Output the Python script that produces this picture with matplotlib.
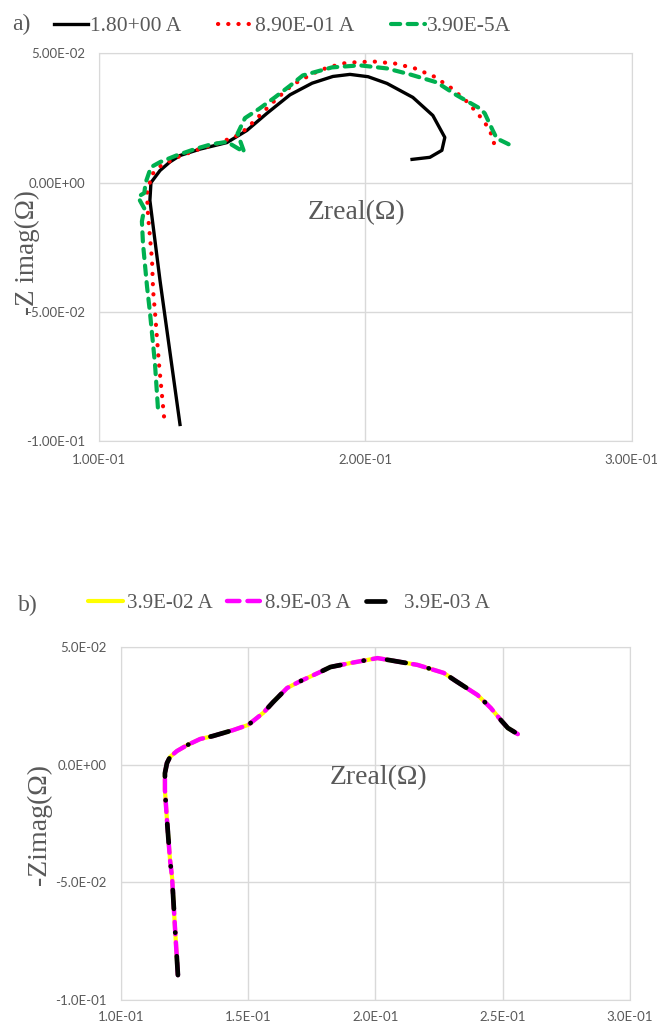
import matplotlib
matplotlib.use("Agg")
import matplotlib.pyplot as plt
from matplotlib.ticker import FuncFormatter, MultipleLocator

# panel a data
a_labels = ["1.80+00 A", "8.90E-01 A", "3.90E-5A"]
a1_re = [0.1304, 0.1229, 0.1191, 0.1195, 0.1229, 0.1266, 0.1304, 0.1380, 0.1480, 0.1555,
         0.1630, 0.1717, 0.1800, 0.1878, 0.1942, 0.2010, 0.2081, 0.2178, 0.2253, 0.2298,
         0.2287, 0.2242, 0.2175]
a1_im = [-0.0936, -0.0379, -0.0069, 0.0000, 0.0047, 0.0080, 0.0105, 0.0130, 0.0155, 0.0202,
         0.0268, 0.0340, 0.0385, 0.0411, 0.0419, 0.0410, 0.0384, 0.0330, 0.0260, 0.0175,
         0.0125, 0.0098, 0.0090]
a2_re = [0.1244, 0.1225, 0.1210, 0.1203, 0.1199, 0.1184, 0.1180, 0.1199, 0.1229, 0.1300,
         0.1371, 0.1446, 0.1521, 0.1555, 0.1611, 0.1668, 0.1728, 0.1799, 0.1837, 0.1912,
         0.1949, 0.2028, 0.2111, 0.2186, 0.2257, 0.2324, 0.2385, 0.2437, 0.2460, 0.2478,
         0.2486]
a2_im = [-0.0905, -0.0700, -0.0500, -0.0417, -0.0301, -0.0127, -0.0042, 0.0032, 0.0063, 0.0101,
         0.0128, 0.0152, 0.0183, 0.0210, 0.0268, 0.0326, 0.0380, 0.0420, 0.0438, 0.0461,
         0.0465, 0.0469, 0.0461, 0.0442, 0.0411, 0.0365, 0.0310, 0.0248, 0.0214, 0.0175,
         0.0136]
a3_re = [0.1221, 0.1210, 0.1191, 0.1180, 0.1165, 0.1161, 0.1170, 0.1146, 0.1170, 0.1175,
         0.1195, 0.1230, 0.1290, 0.1360, 0.1420, 0.1480, 0.1545, 0.1520, 0.1548, 0.1600,
         0.1660, 0.1717, 0.1765, 0.1874, 0.1979, 0.2081, 0.2167, 0.2268, 0.2343, 0.2430,
         0.2448, 0.2478, 0.2493, 0.2531, 0.2561]
a3_im = [-0.0870, -0.0700, -0.0500, -0.0400, -0.0235, -0.0150, -0.0100, -0.0055, -0.0040, 0.0000,
         0.0060, 0.0080, 0.0105, 0.0130, 0.0148, 0.0158, 0.0118, 0.0190, 0.0250, 0.0285,
         0.0330, 0.0375, 0.0415, 0.0446, 0.0454, 0.0442, 0.0419, 0.0388, 0.0338, 0.0287,
         0.0268, 0.0202, 0.0171, 0.0152, 0.0136]

# panel b data (the three currents overlap)
b_labels = ["3.9E-02 A", "8.9E-03 A", "3.9E-03 A"]
b_re = [0.1224, 0.1213, 0.1201, 0.1193, 0.1181, 0.1173, 0.1173, 0.1181, 0.1193, 0.1220,
        0.1260, 0.1311, 0.1362, 0.1441, 0.1500, 0.1559, 0.1598, 0.1653, 0.1705, 0.1783,
        0.1823, 0.1902, 0.2008, 0.2051, 0.2165, 0.2268, 0.2315, 0.2401, 0.2453, 0.2492,
        0.2520, 0.2559]
b_im = [-0.0894, -0.0703, -0.0478, -0.0405, -0.0235, -0.0108, -0.0036, 0.0007, 0.0033, 0.0058,
        0.0083, 0.0109, 0.0122, 0.0147, 0.0169, 0.0220, 0.0266, 0.0326, 0.0355, 0.0394,
        0.0415, 0.0432, 0.0453, 0.0445, 0.0424, 0.0390, 0.0356, 0.0296, 0.0241, 0.0190,
        0.0156, 0.0130]

GRAY = "#595959"
GRID = "#d9d9d9"
SERIF = "Liberation Serif"
TICKFONT = "Lato"

fig = plt.figure(figsize=(6.57, 10.28), dpi=100)


def style_axes(ax, fmt, xstep, xpad):
    ax.xaxis.set_major_locator(MultipleLocator(xstep))
    ax.yaxis.set_major_locator(MultipleLocator(0.05))
    ax.xaxis.set_major_formatter(FuncFormatter(lambda v, p: fmt.format(v)))
    ax.yaxis.set_major_formatter(FuncFormatter(lambda v, p: fmt.format(v)))
    ax.grid(True, color=GRID, lw=1)
    ax.set_axisbelow(True)
    for s in ax.spines.values():
        s.set_color(GRID)
    ax.tick_params(length=0, labelsize=9.5, labelcolor=GRAY)
    ax.tick_params(axis="y", pad=10)
    ax.tick_params(axis="x", pad=xpad)
    for t in ax.get_xticklabels() + ax.get_yticklabels():
        t.set_family(TICKFONT)


# ---- panel a ----
ax1 = fig.add_axes([0.1507, 0.571, 0.811, 0.377])
ax1.plot(a1_re, a1_im, color="black", lw=2.4, label=a_labels[0])
ax1.plot(a2_re, a2_im, color="red", lw=3, linestyle=(0, (0.05, 2.4)),
         dash_capstyle="round", label=a_labels[1])
ax1.plot(a3_re, a3_im, color="#00b050", lw=3, linestyle=(0, (2.2, 1.8)),
         dash_capstyle="round", label=a_labels[2])
ax1.set_xlim(0.1, 0.3)
ax1.set_ylim(-0.1, 0.05)
style_axes(ax1, "{:.2E}", 0.1, 9)
ax1.set_ylabel("-Z imag(\u03a9)", family=SERIF, fontsize=19.5, color=GRAY)
ax1.yaxis.set_label_coords(-0.11, 0.487)
ax1.text(0.484, 0.59, "Zreal(\u03a9)", transform=ax1.transAxes, ha="center", va="center",
         family=SERIF, fontsize=20, color=GRAY)
leg1 = ax1.legend(ncol=3, frameon=False, loc="center", bbox_to_anchor=(0.43, 0.9747),
                  bbox_transform=fig.transFigure, prop={"family": SERIF, "size": 15.5},
                  handlelength=1.6, handletextpad=0.1, columnspacing=1.7)
for t in leg1.get_texts():
    t.set_color(GRAY)
fig.text(0.018, 0.976, "a)", family=SERIF, fontsize=17, color=GRAY, va="center")

# ---- panel b ----
ax2 = fig.add_axes([0.184, 0.0272, 0.775, 0.3434])
ax2.plot(b_re, b_im, color="#ffff00", lw=3, solid_capstyle="round", label=b_labels[0], zorder=2)
ax2.plot(b_re, b_im, color="#ff00ff", lw=3.2, linestyle=(0, (2.8, 1.8)),
         dash_capstyle="round", label=b_labels[1], zorder=3)
ax2.plot(b_re, b_im, color="black", lw=3.4, linestyle=(0, (4.0, 5.0, 0.05, 5.0)),
         dash_capstyle="round", label=b_labels[2], zorder=4)
ax2.set_xlim(0.1, 0.3)
ax2.set_ylim(-0.1, 0.05)
style_axes(ax2, "{:.1E}", 0.05, 8)
ax2.set_ylabel("-Zimag(\u03a9)", family=SERIF, fontsize=20, color=GRAY)
ax2.yaxis.set_label_coords(-0.136, 0.496)
ax2.text(0.505, 0.629, "Zreal(\u03a9)", transform=ax2.transAxes, ha="center", va="center",
         family=SERIF, fontsize=20, color=GRAY)
leg2 = ax2.legend(ncol=3, frameon=False, loc="center", bbox_to_anchor=(0.44, 0.413),
                  bbox_transform=fig.transFigure, prop={"family": SERIF, "size": 15},
                  handlelength=1.7, handletextpad=0.15, columnspacing=0.7)
for t in leg2.get_texts():
    t.set_color(GRAY)
fig.text(0.028, 0.411, "b)", family=SERIF, fontsize=17, color=GRAY, va="center")

fig.savefig("out.png", dpi=100)
